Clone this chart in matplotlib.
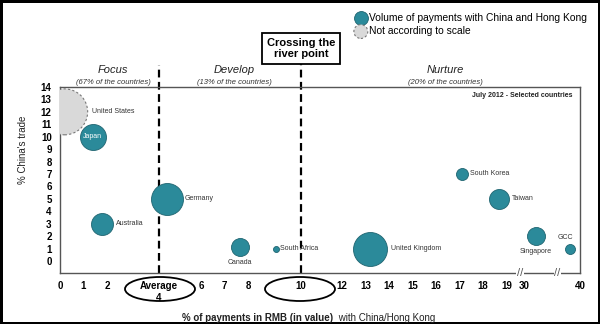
import numpy as np
import matplotlib
matplotlib.use("Agg")
import matplotlib.pyplot as plt
from matplotlib.patches import Ellipse
import matplotlib.transforms as mtransforms

plt.rcParams['font.family'] = ['Liberation Sans', 'DejaVu Sans']

# ---------------- data ----------------
countries = ["United States", "Japan", "Germany", "Australia", "Canada", "South Africa",
             "United Kingdom", "South Korea", "Taiwan", "Singapore", "GCC"]
rmb_share = [0.2, 1.4, 4.55, 1.8, 7.65, 9.2, 13.2, 17.1, 18.7, 32.2, 38.2]   # % of payments in RMB
china_trade = [12.0, 10.0, 5.0, 3.0, 1.1, 1.0, 1.0, 7.0, 5.0, 2.0, 1.0]    # % China's trade
volume = [529, 169, 256, 121, 81, 9, 289, 36, 100, 81, 25]                  # bubble area (rel.)
to_scale = [False, True, True, True, True, True, True, True, True, True, True]

xtick_values = [0, 1, 2, 6, 7, 8, 12, 13, 14, 15, 16, 17, 18, 19, 30, 40]
xtick_labels = ["0", "1", "2", "6", "7", "8", "12", "13", "14", "15",
                "16", "17", "18", "19", "30", "40"]
ytick_values = list(range(0, 15))
average_rmb = 4.2          # position of the "Average 4" line as drawn
crossing_point = 10.25     # position of the "10" crossing line as drawn
marker_labels = ["Average\n4", "10"]
axis_breaks = [27.5, 36]

# label placement (offset in points) and alignment
label_style = {
    "United States": (20, 0, "left", "center"),
    "Japan": (0, 0, "center", "center"),
    "Germany": (13, 0, "left", "center"),
    "Australia": (10, 0, "left", "center"),
    "Canada": (0, -11, "center", "center"),
    "South Africa": (3, 0, "left", "center"),
    "United Kingdom": (15, 0, "left", "center"),
    "South Korea": (6, 0, "left", "center"),
    "Taiwan": (9, 0, "left", "center"),
    "Singapore": (0, -11, "center", "center"),
    "GCC": (-3, 8, "center", "center"),
}

TEAL = "#2B8A9A"
TEAL_EDGE = "#1F6470"


def fwd(x):
    x = np.asarray(x, dtype=float)
    return np.where(x <= 19, x,
                    np.where(x < 30, 19 + (x - 19) * 0.74 / 11, 19.74 + (x - 30) * 0.239))


def inv(p):
    p = np.asarray(p, dtype=float)
    return np.where(p <= 19, p,
                    np.where(p < 19.74, 19 + (p - 19) * 11 / 0.74, 30 + (p - 19.74) / 0.239))


fig = plt.figure(figsize=(6, 3.24), dpi=100)
fig.patch.set_facecolor("white")
fig.patch.set_edgecolor("black")
fig.patch.set_linewidth(2.5)

ax = fig.add_axes([0.1, 1 - 273 / 324, 0.8667, (273 - 87) / 324])
ax.set_xscale("function", functions=(fwd, inv))
ax.set_xlim(0, 40)
ax.set_ylim(-0.97, 14)

sizes = [v * 2.07 for v in volume]
for name, x, y, s, ok in zip(countries, rmb_share, china_trade, sizes, to_scale):
    if ok:
        ax.scatter([x], [y], s=s, color=TEAL, edgecolors=TEAL_EDGE, linewidths=0.6, zorder=3)
    else:
        ax.scatter([x], [y], s=s, color="#D9D9D9", edgecolors="#777777", linewidths=0.8,
                   linestyle=(0, (2, 2)), zorder=3)
    dx, dy, ha, va = label_style[name]
    col = "white" if name == "Japan" else "#333333"
    ax.annotate(name, (x, y), xytext=(dx, dy), textcoords="offset points",
                ha=ha, va=va, fontsize=5, color=col, zorder=4)

for sp in ax.spines.values():
    sp.set_color("#555555")
    sp.set_linewidth(1.0)

ax.set_xticks(xtick_values + [average_rmb, crossing_point])
ax.set_xticklabels(xtick_labels + marker_labels)
ax.set_yticks(ytick_values)
ax.set_yticklabels([str(v) for v in ytick_values])
ax.tick_params(axis="both", length=0, labelsize=7)
ax.tick_params(axis="x", pad=6)
ax.tick_params(axis="y", pad=6)
for lab in ax.get_xticklabels() + ax.get_yticklabels():
    lab.set_fontweight("bold")
ax.minorticks_off()

# axis break marks
trans_xa = mtransforms.blended_transform_factory(ax.transData, ax.transAxes)
for b in axis_breaks:
    ax.text(b, 0, "//", transform=trans_xa, ha="center", va="center", fontsize=8,
            color="#555555", clip_on=False, zorder=5,
            bbox=dict(boxstyle="square,pad=0.05", fc="white", ec="none"))

# dashed vertical lines
ax.plot([average_rmb, average_rmb], [0, 1.118], transform=trans_xa, color="black",
        lw=1.6, ls=(0, (3.5, 2)), clip_on=False, zorder=2)
ax.plot([crossing_point, crossing_point], [0, 1.13], transform=trans_xa, color="black",
        lw=1.6, ls=(0, (3.5, 2)), clip_on=False, zorder=2)

# crossing box
ax.text(crossing_point, 1.207, "Crossing the\nriver point", transform=trans_xa,
        ha="center", va="center", fontsize=8, fontweight="bold", linespacing=1.1,
        bbox=dict(boxstyle="square,pad=0.45", fc="white", ec="black", lw=1.3))

# ellipses around Average and 10 tick labels
for cx in (160, 300):
    fig.add_artist(Ellipse((cx / 600, 1 - 289 / 324), 70 / 600, 24 / 324,
                           transform=fig.transFigure, fill=False, ec="black", lw=1.3))

# zone titles
for cx, title, sub in [(113, "Focus", "(67% of the countries)"),
                       (234, "Develop", "(13% of the countries)"),
                       (445, "Nurture", "(20% of the countries)")]:
    fig.text(cx / 600, 1 - 70 / 324, title, ha="center", va="center", fontsize=8,
             style="italic", color="#222222")
    fig.text(cx / 600, 1 - 82 / 324, sub, ha="center", va="center", fontsize=5.5,
             style="italic", color="#333333")

ax.text(0.985, 0.955, "July 2012 - Selected countries", transform=ax.transAxes,
        ha="right", va="center", fontsize=5, fontweight="bold", color="#222222")

# axis titles
ax.set_ylabel("% China's trade", fontsize=7, color="#222222")
ax.yaxis.set_label_coords(-0.0615, 0.66)
fig.text(333 / 600, 1 - 318 / 324, "% of payments in RMB (in value)", ha="right",
         va="center", fontsize=7, fontweight="bold", color="#222222")
fig.text(336 / 600, 1 - 318 / 324, " with China/Hong Kong", ha="left",
         va="center", fontsize=7, color="#222222")

# legend
h1 = ax.scatter([], [], s=100, color=TEAL, edgecolors=TEAL_EDGE, linewidths=0.6)
h2 = ax.scatter([], [], s=100, color="#D9D9D9", edgecolors="#777777", linewidths=0.8,
                linestyle=(0, (2, 2)))
fig.legend([h1, h2], ["Volume of payments with China and Hong Kong", "Not according to scale"],
           loc="upper left", bbox_to_anchor=(349 / 600, 1 - 8 / 324), frameon=False,
           fontsize=7.4, scatterpoints=1, handletextpad=0.15, labelspacing=0.3,
           borderpad=0, handlelength=1.3)

fig.savefig("out.png", dpi=100, facecolor=fig.get_facecolor(), edgecolor=fig.get_edgecolor())
